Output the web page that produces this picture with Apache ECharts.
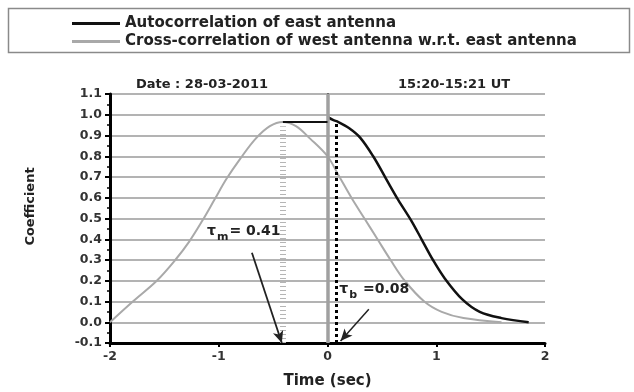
<!DOCTYPE html>
<html>
<head>
<meta charset="utf-8">
<script src="https://cdn.jsdelivr.net/npm/echarts@6/dist/echarts.min.js"></script>
<style>html,body{margin:0;padding:0;background:#fff}#c{width:634px;height:392px}</style>
</head>
<body>
<div id="c"></div>
<script>
// ---- data ----
const seriesNames = ['Autocorrelation of east antenna', 'Cross-correlation of west antenna w.r.t. east antenna'];
const autoX = [0, 0.05, 0.1, 0.2, 0.3, 0.42, 0.54, 0.65, 0.77, 0.87, 0.97, 1.08, 1.24, 1.4, 1.6, 1.85];
const autoY = [0.99, 0.975, 0.965, 0.935, 0.89, 0.80, 0.69, 0.59, 0.49, 0.395, 0.30, 0.21, 0.11, 0.05, 0.02, 0.0];
const crossX = [-2, -1.79, -1.57, -1.40, -1.27, -1.15, -1.04, -0.93, -0.80, -0.66, -0.53, -0.41, -0.29, -0.16, 0.0, 0.1, 0.22, 0.34, 0.46, 0.58, 0.71, 0.89, 1.05, 1.25, 1.6];
const crossY = [0.0, 0.10, 0.20, 0.30, 0.39, 0.49, 0.59, 0.69, 0.79, 0.885, 0.945, 0.965, 0.945, 0.885, 0.80, 0.71, 0.60, 0.50, 0.40, 0.30, 0.20, 0.10, 0.05, 0.02, 0.0];
const tauM = 0.41;       // delay of cross-correlation peak
const tauB = 0.08;       // autocorrelation delay
const peakLevel = 0.965; // level linking peaks
const xTicks = [-2, -1, 0, 1, 2];
const yMin = -0.1, yMax = 1.1, yStep = 0.1;
const titleLeft = 'Date : 28-03-2011';
const titleRight = '15:20-15:21 UT';

const zip = (xs, ys) => xs.map((x, i) => [x, ys[i]]);
const F = 'DejaVu Sans';
const chart = echarts.init(document.getElementById('c'));
chart.setOption({
  animation: false,
  textStyle: { fontFamily: F },
  graphic: [
    { type: 'rect', shape: { x: 8.5, y: 8.5, width: 621, height: 44 }, style: { fill: 'none', stroke: '#8a8a8a', lineWidth: 1.5 } }
  ],
  legend: {
    show: true, type: 'plain', orient: 'vertical', left: 72, top: 16, right: 'auto', bottom: 'auto',
    itemWidth: 48, itemHeight: 3, itemGap: 3, icon: 'rect', padding: 0,
    textStyle: { fontFamily: F, fontWeight: 'bold', fontSize: 15, color: '#222' },
    data: seriesNames
  },
  title: [
    { text: titleLeft, left: 197, top: 73, textAlign: 'center', textStyle: { fontFamily: F, fontSize: 13, fontWeight: 'bold', color: '#222' } },
    { text: titleRight, left: 449, top: 73, textAlign: 'center', textStyle: { fontFamily: F, fontSize: 13, fontWeight: 'bold', color: '#222' } }
  ],
  grid: { left: 110, right: 89, top: 94, bottom: 49, containLabel: false, outerBoundsMode: 'none' },
  xAxis: {
    type: 'value', min: xTicks[0], max: xTicks[xTicks.length - 1], interval: 1,
    name: 'Time (sec)', nameLocation: 'middle', nameGap: 31,
    nameTextStyle: { fontFamily: F, fontWeight: 'bold', fontSize: 15, color: '#222' },
    axisLine: { show: true, onZero: false, lineStyle: { color: '#000', width: 3 } },
    axisTick: { show: true, length: 4, lineStyle: { color: '#000', width: 2 } },
    axisLabel: { margin: 7, fontFamily: F, fontWeight: 'bold', fontSize: 12.5, color: '#333', formatter: v => String(v) },
    splitLine: { show: false }
  },
  yAxis: [{
    type: 'value', min: yMin, max: yMax, interval: yStep,
    name: 'Coefficient', nameLocation: 'middle', nameGap: 73,
    nameTextStyle: { fontFamily: F, fontWeight: 'bold', fontSize: 13, color: '#222', padding: [0, 0, 0, 24] },
    axisLine: { show: true, onZero: false, lineStyle: { color: '#000', width: 3 } },
    axisTick: { show: true, length: 5, lineStyle: { color: '#000', width: 2 } },
    minorTick: { show: true, splitNumber: 2, length: 3, lineStyle: { color: '#000', width: 1.5 } },
    axisLabel: { margin: 8, fontFamily: F, fontWeight: 'bold', fontSize: 12.5, color: '#333', formatter: v => v.toFixed(1) },
    splitLine: { show: true, lineStyle: { color: '#9a9a9a', width: 1.6 } }
  }, {
    type: 'value', min: yMin, max: yMax, position: 'right',
    axisLine: { show: true, lineStyle: { color: '#000', width: 1.5 } },
    axisTick: { show: false }, axisLabel: { show: false }, splitLine: { show: false }
  }],
  series: [
    {
      name: seriesNames[1], type: 'line', data: zip(crossX, crossY), smooth: 0.35, showSymbol: false,
      lineStyle: { color: '#a9a9a9', width: 2 }, itemStyle: { color: '#a9a9a9' }, z: 3,
      markLine: {
        silent: true, symbol: ['none', 'none'], label: { show: false },
        data: [
          { xAxis: 0, lineStyle: { color: '#a0a0a0', width: 3.5, type: 'solid' } },
          [{ coord: [-tauM, yMin], lineStyle: { color: '#b5b5b5', width: 6, type: [1, 3] } }, { coord: [-tauM, peakLevel - 0.02] }]
        ]
      }
    },
    {
      name: seriesNames[0], type: 'line', data: zip(autoX, autoY), smooth: 0.35, showSymbol: false,
      lineStyle: { color: '#111', width: 2.5 }, itemStyle: { color: '#111' }, z: 4,
      markLine: {
        silent: true, symbol: ['none', 'none'], label: { show: false },
        data: [
          [{ coord: [-tauM, peakLevel], lineStyle: { color: '#111', width: 2, type: 'solid' } }, { coord: [0, peakLevel] }],
          [{ coord: [tauB, yMin], lineStyle: { color: '#000', width: 3, type: [3, 3] } }, { coord: [tauB, peakLevel] }],
          [{ coord: [-0.695, 0.335], symbol: 'none', lineStyle: { color: '#222', width: 1.8, type: 'solid' } }, { coord: [-tauM - 0.01, yMin], symbol: 'arrow', symbolSize: [8, 12] }],
          [{ coord: [0.38, 0.063], symbol: 'none', lineStyle: { color: '#222', width: 1.5, type: 'solid' } }, { coord: [tauB + 0.04, yMin + 0.01], symbol: 'arrow', symbolSize: [8, 12] }]
        ]
      },
      markPoint: {
        silent: true, symbol: 'circle', symbolSize: 0,
        data: [
          { coord: [-0.77, 0.44], value: tauM, label: { show: true, formatter: '{t|τ}{s|m}{t|= ' + tauM.toFixed(2) + '}' } },
          { coord: [0.43, 0.16], value: tauB, label: { show: true, formatter: '{t|τ}{s|b}{t| =' + tauB.toFixed(2) + '}' } }
        ],
        label: {
          rich: {
            t: { fontFamily: F, fontWeight: 'bold', fontSize: 14, color: '#222' },
            s: { fontFamily: F, fontWeight: 'bold', fontSize: 11, color: '#222', padding: [13, 1, 0, 1] }
          }
        }
      }
    }
  ]
});
</script>
</body>
</html>
